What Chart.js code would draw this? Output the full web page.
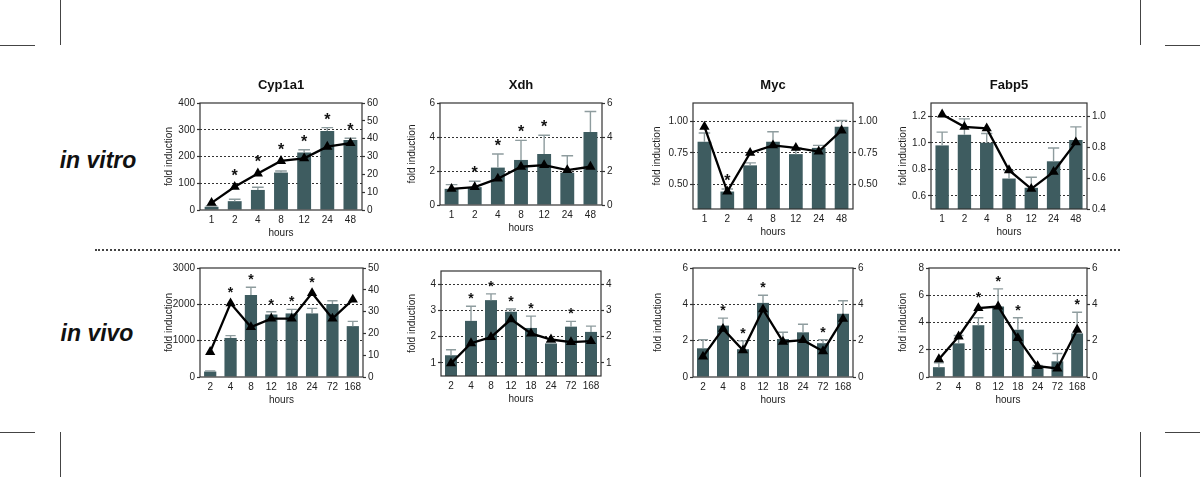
<!DOCTYPE html>
<html>
<head>
<meta charset="utf-8">
<script src="https://cdn.jsdelivr.net/npm/chart.js@4.4.1/dist/chart.umd.min.js"></script>
<style>
body { margin: 0; width: 1200px; height: 477px; background: #fff; position: relative; overflow: hidden; font-family: "Liberation Sans", Arial, sans-serif; }
canvas { position: absolute; }
.row-label { position: absolute; font-weight: bold; font-style: italic; font-size: 23px; color: #111; transform: translate(-50%, -50%); white-space: nowrap; }
.mark { position: absolute; background: #444; }
.sep { position: absolute; left: 95px; top: 249px; width: 1025px; border-top: 2px dotted #444; }
</style>
</head>
<body>
<div class="row-label" style="left:98px;top:160px">in vitro</div>
<div class="row-label" style="left:97px;top:333px">in vivo</div>
<div class="sep"></div>
<div class="mark" style="left:60px;top:0;width:1px;height:45px"></div>
<div class="mark" style="left:1140px;top:0;width:1px;height:45px"></div>
<div class="mark" style="left:60px;top:432px;width:1px;height:45px"></div>
<div class="mark" style="left:1140px;top:432px;width:1px;height:45px"></div>
<div class="mark" style="left:0;top:45px;width:35px;height:1px"></div>
<div class="mark" style="left:1165px;top:45px;width:35px;height:1px"></div>
<div class="mark" style="left:0;top:432px;width:35px;height:1px"></div>
<div class="mark" style="left:1165px;top:432px;width:35px;height:1px"></div>
<script>
// time points (hours)
const vitroHours = ['1', '2', '4', '8', '12', '24', '48'];
const vivoHours = ['2', '4', '8', '12', '18', '24', '72', '168'];

// in vitro - Cyp1a1
const cypVitroBars = [12, 33, 75, 140, 215, 295, 262];
const cypVitroErr = [3, 7, 10, 6, 10, 13, 6];
const cypVitroLine = [4, 13, 20.5, 27.5, 29, 35.5, 37.5];
const cypVitroStars = [0, 1, 1, 1, 1, 1, 1];
const cypVitroLeftTicks = [0, 100, 200, 300, 400];
const cypVitroRightTicks = [0, 10, 20, 30, 40, 50, 60];

// in vitro - Xdh
const xdhVitroBars = [0.95, 1.05, 2.2, 2.65, 3.0, 1.9, 4.3];
const xdhVitroErr = [0.25, 0.35, 0.8, 1.15, 1.1, 1.0, 1.2];
const xdhVitroLine = [0.95, 1.05, 1.55, 2.25, 2.35, 2.05, 2.25];
const xdhVitroStars = [0, 1, 1, 1, 1, 0, 0];
const xdhVitroLeftTicks = [0, 2, 4, 6];
const xdhVitroRightTicks = [0, 2, 4, 6];

// in vitro - Myc
const mycVitroBars = [0.84, 0.44, 0.65, 0.84, 0.74, 0.79, 0.96];
const mycVitroErr = [0.07, 0.02, 0.02, 0.08, 0.05, 0.02, 0.05];
const mycVitroLine = [0.96, 0.44, 0.75, 0.81, 0.79, 0.76, 0.93];
const mycVitroStars = [0, 1, 0, 0, 0, 0, 0];
const mycVitroLeftTicks = [0.5, 0.75, 1.0];
const mycVitroRightTicks = [0.5, 0.75, 1.0];

// in vitro - Fabp5
const fabVitroBars = [0.98, 1.06, 1.0, 0.73, 0.66, 0.86, 1.02];
const fabVitroErr = [0.10, 0.12, 0.07, 0.06, 0.08, 0.10, 0.10];
const fabVitroLine = [1.01, 0.93, 0.92, 0.65, 0.53, 0.64, 0.83];
const fabVitroStars = [0, 0, 0, 0, 0, 0, 0];
const fabVitroLeftTicks = [0.6, 0.8, 1.0, 1.2];
const fabVitroRightTicks = [0.4, 0.6, 0.8, 1.0];

// in vivo - Cyp1a1
const cypVivoBars = [150, 1075, 2260, 1720, 1750, 1750, 2010, 1400];
const cypVivoErr = [15, 65, 210, 75, 110, 140, 90, 130];
const cypVivoLine = [11.5, 33.8, 22.9, 26.8, 26.8, 38.5, 26.8, 35.5];
const cypVivoStars = [0, 1, 1, 1, 1, 1, 0, 0];
const cypVivoLeftTicks = [0, 1000, 2000, 3000];
const cypVivoRightTicks = [0, 10, 20, 30, 40, 50];

// in vivo - Xdh
const xdhVivoBars = [1.29, 2.6, 3.39, 2.95, 2.33, 1.74, 2.38, 2.18];
const xdhVivoErr = [0.21, 0.56, 0.24, 0.1, 0.45, 0.04, 0.2, 0.22];
const xdhVivoLine = [0.98, 1.75, 1.98, 2.66, 2.12, 1.89, 1.79, 1.83];
const xdhVivoStars = [0, 1, 1, 1, 1, 0, 1, 0];
const xdhVivoLeftTicks = [1, 2, 3, 4];
const xdhVivoRightTicks = [1, 2, 3, 4];

// in vivo - Myc
const mycVivoBars = [1.58, 2.83, 1.53, 4.08, 2.09, 2.46, 1.86, 3.48];
const mycVivoErr = [0.47, 0.41, 0.46, 0.42, 0.37, 0.44, 0.19, 0.72];
const mycVivoLine = [1.12, 2.65, 1.47, 3.72, 1.94, 2.03, 1.42, 3.2];
const mycVivoStars = [0, 1, 1, 1, 0, 0, 1, 0];
const mycVivoLeftTicks = [0, 2, 4, 6];
const mycVivoRightTicks = [0, 2, 4, 6];

// in vivo - Fabp5
const fabVivoBars = [0.72, 2.47, 3.8, 5.17, 3.47, 0.75, 1.15, 3.2];
const fabVivoErr = [0.33, 0.58, 0.55, 1.3, 0.88, 0.1, 0.57, 1.55];
const fabVivoLine = [0.98, 2.23, 3.79, 3.88, 2.14, 0.6, 0.47, 2.6];
const fabVivoStars = [0, 0, 1, 1, 1, 0, 0, 1];
const fabVivoLeftTicks = [0, 2, 4, 6, 8];
const fabVivoRightTicks = [0, 2, 4, 6];

const BAR_COLOR = '#3e5c60';
const ERR_COLOR = '#8e9c9e';
const TEXT_COLOR = '#222';
const FONT = 'Liberation Sans';
const AXIS_L = 50;
const AXIS_R = 40;
const PAD_T = 30;
const AXIS_B = 36;

// box = [left, right, top, bottom] of the plot area in page pixels, titleGap = axis title distance
const panels = [
    { title: 'Cyp1a1', labels: vitroHours, bars: cypVitroBars, err: cypVitroErr, line: cypVitroLine, stars: cypVitroStars,
      left: cypVitroLeftTicks, right: cypVitroRightTicks, leftRange: [0, 400], rightRange: [0, 60], dec: [0, 0], box: [200, 362, 103, 210], titleGap: 31 },
    { title: 'Xdh', labels: vitroHours, bars: xdhVitroBars, err: xdhVitroErr, line: xdhVitroLine, stars: xdhVitroStars,
      left: xdhVitroLeftTicks, right: xdhVitroRightTicks, leftRange: [0, 6], rightRange: [0, 6], dec: [0, 0], box: [440, 602, 103, 205], titleGap: 28 },
    { title: 'Myc', labels: vitroHours, bars: mycVitroBars, err: mycVitroErr, line: mycVitroLine, stars: mycVitroStars,
      left: mycVitroLeftTicks, right: mycVitroRightTicks, leftRange: [0.3, 1.15], rightRange: [0.3, 1.15], dec: [2, 2], box: [693, 853, 103, 209], titleGap: 36 },
    { title: 'Fabp5', labels: vitroHours, bars: fabVitroBars, err: fabVitroErr, line: fabVitroLine, stars: fabVitroStars,
      left: fabVitroLeftTicks, right: fabVitroRightTicks, leftRange: [0.5, 1.3], rightRange: [0.4, 1.084], dec: [1, 1], box: [931, 1087, 103, 209], titleGap: 28 },
    { title: '', labels: vivoHours, bars: cypVivoBars, err: cypVivoErr, line: cypVivoLine, stars: cypVivoStars,
      left: cypVivoLeftTicks, right: cypVivoRightTicks, leftRange: [0, 3000], rightRange: [0, 50], dec: [0, 0], box: [200, 363, 268, 377], titleGap: 31 },
    { title: '', labels: vivoHours, bars: xdhVivoBars, err: xdhVivoErr, line: xdhVivoLine, stars: xdhVivoStars,
      left: xdhVivoLeftTicks, right: xdhVivoRightTicks, leftRange: [0.5, 4.5], rightRange: [0.5, 4.5], dec: [0, 0], box: [441, 601, 271, 376], titleGap: 29 },
    { title: '', labels: vivoHours, bars: mycVivoBars, err: mycVivoErr, line: mycVivoLine, stars: mycVivoStars,
      left: mycVivoLeftTicks, right: mycVivoRightTicks, leftRange: [0, 6], rightRange: [0, 6], dec: [0, 0], box: [693, 853, 268, 377], titleGap: 35 },
    { title: '', labels: vivoHours, bars: fabVivoBars, err: fabVivoErr, line: fabVivoLine, stars: fabVivoStars,
      left: fabVivoLeftTicks, right: fabVivoRightTicks, leftRange: [0, 8], rightRange: [0, 6], dec: [0, 0], box: [929, 1087, 268, 377], titleGap: 26 },
];

// error bars, significance stars, frame and panel title
const panelDecor = {
    id: 'panelDecor',
    afterDatasetDraw(chart, args, opts) {
        if (args.index !== 0) {
            return;
        }
        const y = chart.scales.y;
        const ctx = chart.ctx;
        ctx.save();
        ctx.strokeStyle = ERR_COLOR;
        ctx.lineWidth = 1.4;
        chart.getDatasetMeta(0).data.forEach((bar, i) => {
            const top = y.getPixelForValue(opts.bars[i] + opts.err[i]);
            const half = bar.width * 0.42;
            ctx.beginPath();
            ctx.moveTo(bar.x, bar.y);
            ctx.lineTo(bar.x, top);
            ctx.moveTo(bar.x - half, top);
            ctx.lineTo(bar.x + half, top);
            ctx.stroke();
        });
        ctx.restore();
    },
    afterDatasetsDraw(chart, args, opts) {
        const { ctx, chartArea } = chart;
        const y = chart.scales.y;
        const y1 = chart.scales.y1;
        ctx.save();
        ctx.strokeStyle = '#333';
        ctx.lineWidth = 1.2;
        ctx.strokeRect(chartArea.left, chartArea.top, chartArea.right - chartArea.left, chartArea.bottom - chartArea.top);

        ctx.fillStyle = '#111';
        ctx.textAlign = 'center';
        ctx.textBaseline = 'alphabetic';
        ctx.font = `bold ${opts.starSize}px "${FONT}"`;
        const bars = chart.getDatasetMeta(0).data;
        opts.stars.forEach((s, i) => {
            if (!s) {
                return;
            }
            const top = Math.min(
                y.getPixelForValue(opts.bars[i] + opts.err[i]),
                y1.getPixelForValue(opts.line[i]) - 3
            );
            ctx.fillText('*', bars[i].x, top - 3);
        });

        if (opts.title) {
            ctx.font = `bold 13px "${FONT}"`;
            ctx.textBaseline = 'middle';
            ctx.fillStyle = '#111';
            ctx.fillText(opts.title, (chartArea.left + chartArea.right) / 2, chartArea.top - 18);
        }
        ctx.restore();
    },
};

const tickFont = { family: FONT, size: 10 };

const makeYAxis = (ticks, range, dec, side, titleGap) => ({
    position: side,
    min: range[0],
    max: range[1],
    afterBuildTicks: (scale) => {
        scale.ticks = ticks.map((v) => ({ value: v }));
    },
    afterFit: (scale) => {
        scale.width = side === 'left' ? AXIS_L : AXIS_R;
    },
    border: { display: false, dash: [2, 2] },
    grid: {
        drawOnChartArea: side === 'left',
        color: (c) => (side === 'left' && c.tick && c.tick.value > range[0] && c.tick.value < range[1]) ? '#333' : 'rgba(0,0,0,0)',
        lineWidth: 1,
        drawTicks: true,
        tickLength: 3,
        tickColor: '#333',
        tickBorderDash: [],
        tickWidth: 1.2,
    },
    ticks: {
        autoSkip: false,
        padding: 2,
        color: TEXT_COLOR,
        font: tickFont,
        callback: (v) => Number(v).toFixed(dec),
    },
    title: {
        display: side === 'left',
        text: 'fold induction',
        color: TEXT_COLOR,
        font: tickFont,
        padding: { top: AXIS_L - titleGap - 6, bottom: 0 },
    },
});

const initPanel = (p, idx) => {
    const [l, r, t, b] = p.box;
    const canvas = document.createElement('canvas');
    canvas.id = `panel${idx}`;
    canvas.width = r - l + AXIS_L + AXIS_R;
    canvas.height = b - t + PAD_T + AXIS_B;
    canvas.style.left = `${l - AXIS_L}px`;
    canvas.style.top = `${t - PAD_T}px`;
    document.body.appendChild(canvas);

    new Chart(canvas, {
        type: 'bar',
        data: {
            labels: p.labels,
            datasets: [
                {
                    type: 'bar',
                    data: p.bars,
                    yAxisID: 'y',
                    backgroundColor: BAR_COLOR,
                    barPercentage: 0.6,
                    categoryPercentage: 1,
                    base: p.leftRange[0],
                    order: 2,
                },
                {
                    type: 'line',
                    data: p.line,
                    yAxisID: 'y1',
                    borderColor: '#000',
                    borderWidth: 2.3,
                    pointStyle: 'triangle',
                    pointRadius: 3.6,
                    pointBackgroundColor: '#000',
                    pointBorderColor: '#000',
                    tension: 0,
                    clip: false,
                    order: 1,
                },
            ],
        },
        options: {
            responsive: false,
            animation: false,
            layout: { padding: { top: PAD_T, left: 0, right: 0, bottom: 0 } },
            plugins: {
                legend: { display: false },
                tooltip: { enabled: false },
                panelDecor: {
                    bars: p.bars,
                    err: p.err,
                    line: p.line,
                    stars: p.stars,
                    title: p.title,
                    starSize: p.title ? 16 : 14,
                },
            },
            scales: {
                x: {
                    grid: { display: false, drawTicks: false },
                    border: { display: false },
                    afterFit: (scale) => {
                        scale.height = AXIS_B;
                    },
                    ticks: { padding: 4, maxRotation: 0, autoSkip: false, color: TEXT_COLOR, font: tickFont },
                    title: { display: true, text: 'hours', color: TEXT_COLOR, font: tickFont, padding: { top: 0, bottom: 7 } },
                },
                y: makeYAxis(p.left, p.leftRange, p.dec[0], 'left', p.titleGap),
                y1: makeYAxis(p.right, p.rightRange, p.dec[1], 'right', p.titleGap),
            },
        },
        plugins: [panelDecor],
    });
};

panels.forEach(initPanel);
</script>
</body>
</html>
